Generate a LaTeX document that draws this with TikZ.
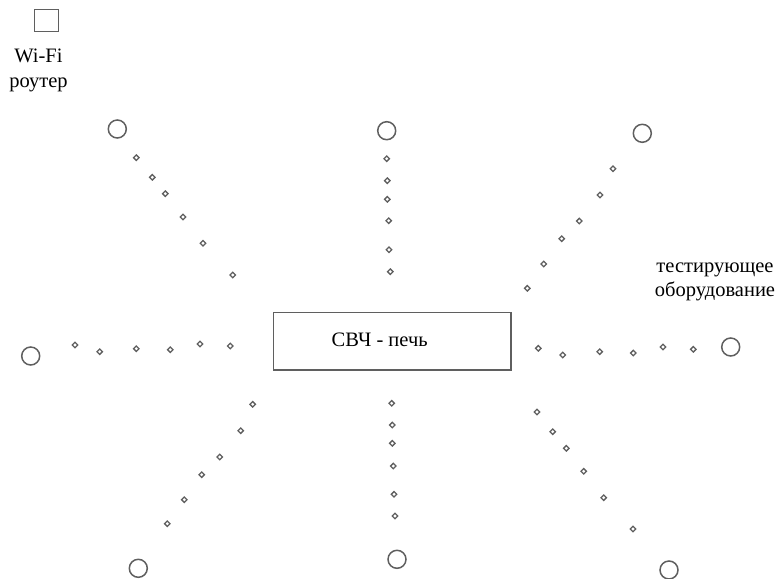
\documentclass[tikz,border=0pt]{standalone}
\usepackage{fontspec}
\setmainfont{Liberation Serif}
\usetikzlibrary{shapes.geometric}
\definecolor{edgegray}{HTML}{5f5f5f}
\tikzset{
  dev/.style={circle,draw=edgegray,line width=1.5pt,minimum size=18pt,inner sep=0pt},
  pt/.style={diamond,draw=edgegray,line width=1.3pt,minimum size=6pt,inner sep=0pt},
  lbl/.style={font=\fontsize{20.5}{24.5}\selectfont,inner sep=0pt,align=center,text=black},
  box/.style={draw=edgegray,line width=1.5pt,inner sep=0pt}
}
\begin{document}
\begin{tikzpicture}[x=1pt,y=-1pt]
\useasboundingbox (0,0) rectangle (778,578);
% router
\node[box,minimum width=24pt,minimum height=22pt] (router) at (46.5,20.5) {};
\node[lbl] (routerlbl) at (38.5,70.5) {Wi-Fi\\роутер};
% oven
\node[box,minimum width=237.5pt,minimum height=57.5pt] (oven) at (392.2,341.2) {};
\node[lbl] (ovenlbl) at (379.7,340) {СВЧ - печь};
% tester label
\node[lbl] (testlbl) at (715,282) {тестирующее\\оборудование};
% devices
\node[dev] (c1) at (117.3,129) {};
\node[dev] (c2) at (386.7,130.7) {};
\node[dev] (c3) at (642.3,133.3) {};
\node[dev] (c4) at (30.7,356) {};
\node[dev] (c5) at (730.7,347) {};
\node[dev] (c6) at (138.3,568.3) {};
\node[dev] (c7) at (397,559.3) {};
\node[dev] (c8) at (669,570) {};
% top-left dots
\node[pt] (a1) at (136.3,157.7) {};
\node[pt] (a2) at (152.3,177.3) {};
\node[pt] (a3) at (165.3,193.7) {};
\node[pt] (a4) at (183,217) {};
\node[pt] (a5) at (203,243.3) {};
\node[pt] (a6) at (232.7,275) {};
% top vertical dots
\node[pt] (b1) at (386.7,158.7) {};
\node[pt] (b2) at (387.3,180.7) {};
\node[pt] (b3) at (387.3,199.3) {};
\node[pt] (b4) at (388.7,220.7) {};
\node[pt] (b5) at (389,249.7) {};
\node[pt] (b6) at (390.3,271.7) {};
% top-right dots
\node[pt] (e1) at (613,168.7) {};
\node[pt] (e2) at (600,195) {};
\node[pt] (e3) at (579.3,221) {};
\node[pt] (e4) at (561.7,238.7) {};
\node[pt] (e5) at (543.7,264) {};
\node[pt] (e6) at (527.3,288.3) {};
% left horizontal dots
\node[pt] (f1) at (75,345) {};
\node[pt] (f2) at (99.7,351.7) {};
\node[pt] (f3) at (136.3,348.7) {};
\node[pt] (f4) at (170.3,349.7) {};
\node[pt] (f5) at (200,344) {};
\node[pt] (f6) at (230.3,346) {};
% right horizontal dots
\node[pt] (g1) at (538.3,348.3) {};
\node[pt] (g2) at (562.7,355) {};
\node[pt] (g3) at (599.7,351.7) {};
\node[pt] (g4) at (633.3,353) {};
\node[pt] (g5) at (663,347) {};
\node[pt] (g6) at (693.3,349.3) {};
% bottom-left dots
\node[pt] (h1) at (252.7,404.3) {};
\node[pt] (h2) at (240.7,430.7) {};
\node[pt] (h3) at (219.7,457) {};
\node[pt] (h4) at (201.7,474.7) {};
\node[pt] (h5) at (184.3,499.7) {};
\node[pt] (h6) at (167.3,523.7) {};
% bottom vertical dots
\node[pt] (k1) at (391.7,403.3) {};
\node[pt] (k2) at (392.3,425) {};
\node[pt] (k3) at (392.3,443.3) {};
\node[pt] (k4) at (393.3,466) {};
\node[pt] (k5) at (394,494.3) {};
\node[pt] (k6) at (395,516) {};
% bottom-right dots
\node[pt] (m1) at (537,412) {};
\node[pt] (m2) at (552.7,431.7) {};
\node[pt] (m3) at (566.3,448.3) {};
\node[pt] (m4) at (583.7,471.3) {};
\node[pt] (m5) at (603.7,497.7) {};
\node[pt] (m6) at (633,529) {};
\end{tikzpicture}
\end{document}
